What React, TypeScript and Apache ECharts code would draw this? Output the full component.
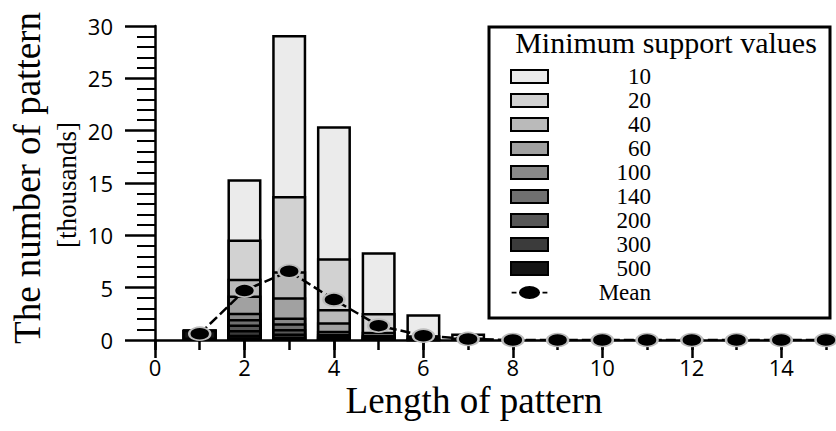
import { useEffect, useRef } from 'react';
import * as echarts from 'echarts';

const SERIF = '"Liberation Serif", "Times New Roman", serif';
const SANS = '"Open Sans", "Noto Sans", sans-serif';

// Pattern lengths that have bars
const lengths = [1, 2, 3, 4, 5, 6, 7];

// Minimum support values (one bar layer each, drawn back to front)
const supportValues = ['10', '20', '40', '60', '100', '140', '200', '300', '500'];

// Number of patterns (thousands) per length, for each minimum support
const countsSup10 = [0.97, 15.35, 29.15, 20.43, 8.39, 2.47, 0.63];
const countsSup20 = [0.97, 9.6, 13.76, 7.82, 2.58, 0.45, 0.1];
const countsSup40 = [0.97, 5.84, 6.57, 2.97, 0.8, 0.2, 0];
const countsSup60 = [0.97, 4.24, 4.08, 1.69, 0.5, 0.12, 0];
const countsSup100 = [0.97, 2.6, 2.16, 0.89, 0.35, 0.07, 0];
const countsSup140 = [0.97, 2.0, 1.59, 0.6, 0.25, 0.04, 0];
const countsSup200 = [0.97, 1.47, 1.05, 0.4, 0.15, 0.02, 0];
const countsSup300 = [0.97, 0.96, 0.63, 0.25, 0.1, 0.01, 0];
const countsSup500 = [0.97, 0.5, 0.32, 0.12, 0.05, 0, 0];

const countsBySupport = [
  countsSup10, countsSup20, countsSup40, countsSup60, countsSup100,
  countsSup140, countsSup200, countsSup300, countsSup500,
];

// Mean over all support values
const meanLengths = [1, 2, 3, 4, 5, 6, 7, 8, 9, 10, 11, 12, 13, 14, 15];
const meanValues = [0.6, 4.72, 6.57, 3.86, 1.37, 0.41, 0.1, 0, 0, 0, 0, 0, 0, 0, 0];

const xMajorTicks = [0, 2, 4, 6, 8, 10, 12, 14];

// Grey ramp, light for low support to near black for high support
const barColors = ['#ebebeb', '#d2d2d2', '#bababa', '#a1a1a1', '#898989', '#707070', '#575757', '#3b3b3b', '#141414'];

// Legend key for the mean line: dash, ellipse marker, dash
const MEAN_ICON =
  'path://M0,7h6v2.2h-6z M9,8a13,8 0 1,0 26,0a13,8 0 1,0 -26,0z M38,7h6v2.2h-6z';

export default function App() {
  const ref = useRef<HTMLDivElement>(null);

  useEffect(() => {
    const chart = echarts.init(ref.current!, undefined, { renderer: 'svg' });

    const barSeries = supportValues.map((name, i) => ({
      name,
      type: 'bar',
      xAxisIndex: 0,
      yAxisIndex: 0,
      barWidth: 34,
      barGap: '-100%',
      z: 2 + i * 0.01,
      data: lengths
        .map((len, j) => [len, countsBySupport[i][j]])
        .filter((d) => d[1] > 0),
      itemStyle: { color: barColors[i], borderColor: '#000', borderWidth: 2.5 },
      emphasis: { disabled: true },
    }));

    const option: any = {
      animation: false,
      backgroundColor: '#fff',
      grid: { left: 155, right: 10, top: 26, bottom: 91, containLabel: false },
      xAxis: [
        {
          type: 'value',
          min: 0,
          max: 15,
          interval: 1,
          position: 'bottom',
          axisLine: { show: true, onZero: true, lineStyle: { color: '#000', width: 2.5 } },
          axisTick: { show: true, length: 10, lineStyle: { color: '#000', width: 2.5 } },
          axisLabel: {
            color: '#000',
            fontFamily: SANS,
            fontSize: 22,
            margin: 16,
            formatter: (v: number) => (v % 2 === 0 ? String(v) : ''),
          },
          splitLine: { show: false },
        },
        {
          type: 'value',
          min: 0,
          max: 15,
          interval: 2,
          position: 'bottom',
          axisLine: { show: false },
          axisTick: { show: true, length: 18, customValues: xMajorTicks, lineStyle: { color: '#000', width: 2.5 } },
          axisLabel: { show: false },
          splitLine: { show: false },
        },
      ],
      yAxis: {
        type: 'value',
        min: 0,
        max: 30,
        interval: 5,
        axisLine: { show: true, lineStyle: { color: '#000', width: 2.5 } },
        axisTick: { show: true, length: 30, lineStyle: { color: '#000', width: 2.5 } },
        minorTick: { show: true, splitNumber: 5, length: 18, lineStyle: { color: '#000', width: 2 } },
        axisLabel: { color: '#000', fontFamily: SANS, fontSize: 22, margin: 42 },
        splitLine: { show: false },
      },
      legend: {
        orient: 'vertical',
        left: 510,
        top: 65,
        z: 10,
        itemWidth: 37,
        itemHeight: 13,
        itemGap: 1,
        padding: 0,
        selectedMode: false,
        data: [
          ...supportValues.map((name) => ({ name, icon: 'rect' })),
          { name: 'Mean', icon: MEAN_ICON, itemStyle: { color: '#000', borderWidth: 0 } },
        ],
        formatter: (name: string) => `{n|${name}}`,
        textStyle: {
          color: '#000',
          fontFamily: SERIF,
          fontSize: 23,
          rich: {
            n: { width: 98, align: 'right', fontFamily: SERIF, fontSize: 23, color: '#000' },
          },
        },
      },
      graphic: [
        {
          type: 'rect',
          z: 1,
          shape: { x: 489, y: 27, width: 341, height: 291 },
          style: { fill: 'transparent', stroke: '#000', lineWidth: 3 },
        },
        {
          type: 'text',
          z: 10,
          x: 666,
          y: 42,
          style: {
            text: 'Minimum support values',
            fontFamily: SERIF,
            fontSize: 30,
            fill: '#000',
            align: 'center',
            verticalAlign: 'middle',
          },
        },
        {
          type: 'text',
          x: 27,
          y: 178,
          rotation: Math.PI / 2,
          style: {
            text: 'The number of pattern',
            fontFamily: SERIF,
            fontSize: 37,
            fill: '#000',
            align: 'center',
            verticalAlign: 'middle',
          },
        },
        {
          type: 'text',
          x: 67,
          y: 185,
          rotation: Math.PI / 2,
          style: {
            text: '[thousands]',
            fontFamily: SERIF,
            fontSize: 27,
            fill: '#000',
            align: 'center',
            verticalAlign: 'middle',
          },
        },
        {
          type: 'text',
          x: 474,
          y: 400,
          style: {
            text: 'Length of pattern',
            fontFamily: SERIF,
            fontSize: 37,
            fill: '#000',
            align: 'center',
            verticalAlign: 'middle',
          },
        },
      ],
      series: [
        ...barSeries,
        {
          name: 'Mean',
          type: 'line',
          xAxisIndex: 0,
          yAxisIndex: 0,
          z: 10,
          data: meanLengths.map((len, j) => [len, meanValues[j]]),
          symbol: 'circle',
          symbolSize: [21, 13],
          itemStyle: { color: '#000', borderColor: '#bdbdbd', borderWidth: 2 },
          lineStyle: { color: '#000', width: 2.5, type: [10, 4] },
          emphasis: { disabled: true },
        },
      ],
    };

    chart.setOption(option);
    return () => chart.dispose();
  }, []);

  return (
    <div
      ref={ref}
      style={{ position: 'fixed', left: 0, top: 0, width: 836, height: 431, background: '#fff' }}
    />
  );
}
